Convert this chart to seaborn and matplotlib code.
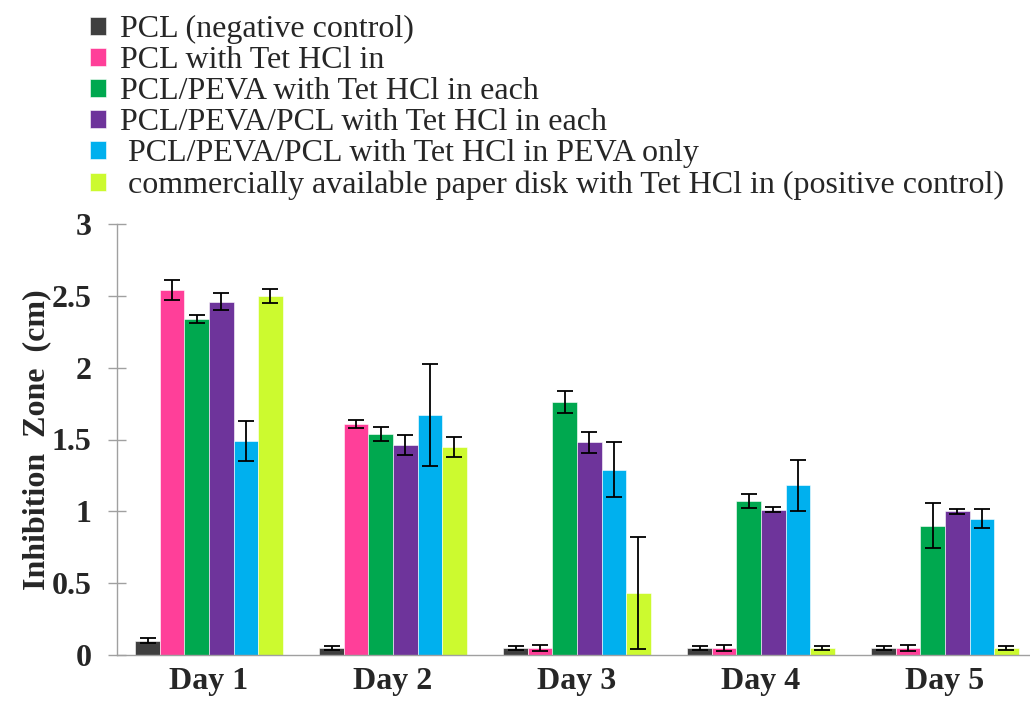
import matplotlib
matplotlib.use("Agg")
import matplotlib.pyplot as plt
import seaborn as sns
import pandas as pd
import numpy as np

days = ["Day 1", "Day 2", "Day 3", "Day 4", "Day 5"]
series = [
    "PCL (negative control)",
    "PCL with Tet HCl in",
    "PCL/PEVA with Tet HCl in each",
    "PCL/PEVA/PCL with Tet HCl in each",
    " PCL/PEVA/PCL with Tet HCl in PEVA only",
    " commercially available paper disk with Tet HCl in (positive control)",
]
colors = ["#3F3F3F", "#FF3F99", "#00A84F", "#6E349B", "#00B0EE", "#CCFA2F"]

pcl_neg = [0.10, 0.05, 0.05, 0.05, 0.05]
pcl_tet = [2.54, 1.61, 0.05, 0.05, 0.05]
pcl_peva = [2.34, 1.54, 1.76, 1.07, 0.90]
pcl_peva_pcl = [2.46, 1.46, 1.48, 1.01, 1.00]
pcl_peva_only = [1.49, 1.67, 1.29, 1.18, 0.95]
paper_disk = [2.50, 1.45, 0.43, 0.05, 0.05]

err_pcl_neg = [0.015, 0.012, 0.012, 0.012, 0.012]
err_pcl_tet = [0.07, 0.027, 0.02, 0.02, 0.02]
err_pcl_peva = [0.027, 0.05, 0.075, 0.05, 0.155]
err_pcl_peva_pcl = [0.06, 0.07, 0.072, 0.018, 0.018]
err_pcl_peva_only = [0.14, 0.353, 0.19, 0.175, 0.068]
err_paper_disk = [0.05, 0.07, 0.39, 0.012, 0.012]

values = [pcl_neg, pcl_tet, pcl_peva, pcl_peva_pcl, pcl_peva_only, paper_disk]
errors = [err_pcl_neg, err_pcl_tet, err_pcl_peva, err_pcl_peva_pcl, err_pcl_peva_only, err_paper_disk]

rows = []
for s, vals in zip(series, values):
    for d, v in zip(days, vals):
        rows.append({"day": d, "series": s, "value": v})
df = pd.DataFrame(rows)

sns.set_style("white")
plt.rcParams["font.family"] = ["Liberation Serif", "DejaVu Serif"]

FS = 23

fig = plt.figure(figsize=(10.30, 7.05), dpi=100)
ax = fig.add_axes([117 / 1030, 1 - 655 / 705, 920 / 1030, (655 - 224) / 705])

sns.barplot(data=df, x="day", y="value", hue="series", hue_order=series,
            order=days, palette=colors, errorbar=None, width=0.8, ax=ax,
            edgecolor="white", linewidth=0.4, saturation=1)

for cont, errs in zip(ax.containers, errors):
    xs = [p.get_x() + p.get_width() / 2 for p in cont]
    hs = [p.get_height() for p in cont]
    ax.errorbar(xs, hs, yerr=errs, fmt="none", ecolor="black", elinewidth=1.3,
                capsize=6, capthick=1.3, zorder=5)

ax.set_xlim(-0.5, 4.5)
ax.set_ylim(0, 3)
ax.set_yticks([0, 0.5, 1, 1.5, 2, 2.5, 3])
ax.set_yticklabels(["0", "0.5", "1", "1.5", "2", "2.5", "3"], fontsize=FS, fontweight="bold")
ax.set_xticks(range(len(days)))
ax.set_xticklabels(days, fontsize=FS, fontweight="bold")
ax.set_xticks(np.arange(-0.5, 4.6, 1.0), minor=True)
ax.tick_params(axis="x", which="major", length=0, pad=9)
ax.tick_params(axis="x", which="minor", length=8, direction="out", color="#A0A0A0", width=1)
ax.tick_params(axis="y", which="major", length=13, direction="inout", color="#A0A0A0", width=1, pad=12, left=True)
ax.set_xlabel("")
ax.set_ylabel("Inhibition  Zone  (cm)", fontsize=FS, fontweight="bold", labelpad=0)
for sp in ["top", "right"]:
    ax.spines[sp].set_visible(False)
for sp in ["left", "bottom"]:
    ax.spines[sp].set_color("#A0A0A0")
    ax.spines[sp].set_linewidth(1)

handles, labels = ax.get_legend_handles_labels()
if ax.legend_:
    ax.legend_.remove()
fig.legend(handles, labels, loc="upper left", bbox_to_anchor=(90 / 1030, 1.0 - 15 / 705),
           frameon=False, fontsize=FS, handlelength=0.5, handleheight=0.5,
           handletextpad=0.45, labelspacing=0.065, borderaxespad=0, borderpad=0)

fig.savefig("out.png", dpi=100)
